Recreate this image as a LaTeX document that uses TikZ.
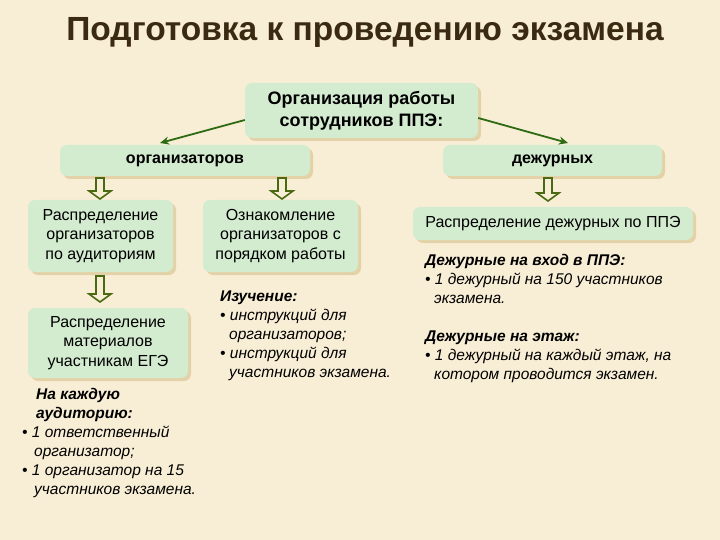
\documentclass[tikz,border=0pt]{standalone}
\usepackage{fontspec}
\setmainfont{Liberation Sans}
\usetikzlibrary{shadows,arrows.meta}
\definecolor{bg}{HTML}{F8EED6}
\definecolor{boxg}{HTML}{D3EBCF}
\definecolor{shad}{HTML}{E3D2A8}
\definecolor{ttl}{HTML}{3B2A12}
\definecolor{arrg}{HTML}{2E6A12}
\definecolor{harr}{HTML}{4A6A12}
\newcommand\hollowarr[3]{\draw[harr,line width=1.6pt,fill=bg,line join=miter] (#1-4,#2)--(#1+4,#2)--(#1+4,#3-8)--(#1+11,#3-8)--(#1,#3)--(#1-11,#3-8)--(#1-4,#3-8)--cycle;}
\begin{document}
\begin{tikzpicture}[x=1pt,y=-1pt,
 bx/.style={fill=boxg,rounded corners=7pt,drop shadow={shadow xshift=3pt,shadow yshift=-3pt,fill=shad,opacity=1},font=\fontsize{16}{19.5}\selectfont,align=center,inner sep=0pt},
 lst/.style={anchor=north west,align=left,font=\fontsize{15.5}{19}\selectfont\itshape,inner sep=0pt}]
\fill[bg] (0,0) rectangle (720,540);
\node[font=\fontsize{33.5}{36}\selectfont\bfseries,text=ttl] (title) at (365,32) {Подготовка к проведению экзамена};
\node[bx,minimum width=233pt,minimum height=55pt,font=\fontsize{18}{22}\selectfont\bfseries] (top) at (361.5,110.5) {Организация работы\\сотрудников ППЭ:};
\node[bx,minimum width=250pt,minimum height=31pt,font=\fontsize{16}{19}\selectfont\bfseries] (org) at (185,160.5) {организаторов};
\node[bx,minimum width=219pt,minimum height=31pt,font=\fontsize{16}{19}\selectfont\bfseries] (dez) at (552.5,160.5) {дежурных};
\draw[arrg,line width=1.8pt,-{Stealth[length=9pt,width=8pt]}] (top.west|-0,120) -- (160,143);
\draw[arrg,line width=1.8pt,-{Stealth[length=9pt,width=8pt]}] (top.east|-0,118) -- (568,143);
\node[bx,minimum width=145pt,minimum height=72pt] (ra) at (100.5,236) {Распределение\\организаторов\\по аудиториям};
\node[bx,minimum width=155pt,minimum height=72pt] (oz) at (280.5,236) {Ознакомление\\организаторов с\\порядком работы};
\node[bx,minimum width=280pt,minimum height=33pt] (rd) at (553,223.5) {Распределение дежурных по ППЭ};
\node[bx,minimum width=160pt,minimum height=70pt] (rm) at (108,343) {Распределение\\материалов\\участникам ЕГЭ};
\hollowarr{100}{178}{199}
\hollowarr{282}{178}{199}
\hollowarr{548}{178}{201}
\hollowarr{100}{276}{302}
\node[lst] (l1) at (22,388) {\hspace*{14pt}\bfseries На каждую\\\hspace*{14pt}\bfseries аудиторию:\\• 1 ответственный\\\hspace*{12pt}организатор;\\• 1 организатор на 15\\\hspace*{12pt}участников экзамена.};
\node[lst] (l2) at (220,291) {\bfseries Изучение:\\• инструкций для\\\hspace*{9pt}организаторов;\\• инструкций для\\\hspace*{9pt}участников экзамена.};
\node[lst] (l3) at (425,254) {\bfseries Дежурные на вход в ППЭ:\\• 1 дежурный на 150 участников\\\hspace*{9pt}экзамена.};
\node[lst] (l4) at (425,331) {\bfseries Дежурные на этаж:\\• 1 дежурный на каждый этаж, на\\\hspace*{9pt}котором проводится экзамен.};
\end{tikzpicture}
\end{document}
